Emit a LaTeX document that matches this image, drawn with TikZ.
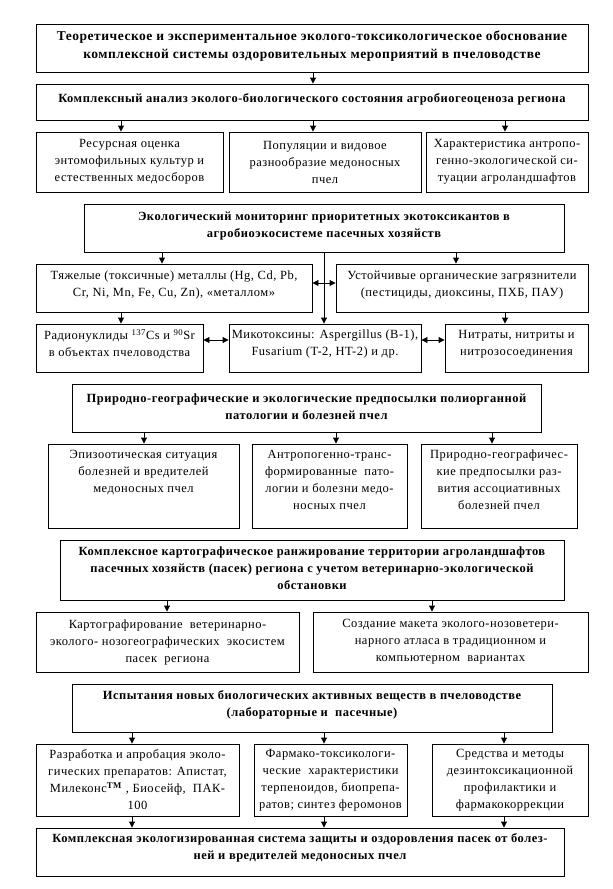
\documentclass[tikz,border=0pt]{standalone}
\usepackage{fontspec}
\setmainfont{Liberation Serif}[LetterSpace=4]
\usetikzlibrary{arrows.meta, positioning}

\tikzset{
  frame/.style={draw, line width=0.9pt, inner sep=0pt},
  txt/.style={align=center, inner sep=0pt, font=\fontsize{12.5}{17}\selectfont},
  head/.style={align=center, inner sep=0pt, font=\fontsize{12.5}{17}\selectfont\bfseries},
  title/.style={head, font=\fontsize{13.5}{18}\selectfont\bfseries},
  arr/.style={line width=0.9pt, -{Triangle[length=6pt,width=6pt]}},
  darr/.style={line width=0.9pt, {Triangle[length=6pt,width=6pt]}-{Triangle[length=6pt,width=6pt]}},
}

\begin{document}
\begin{tikzpicture}[x=1pt, y=-1pt]
  \useasboundingbox (0,0) rectangle (613,889);
  % Top goal and analysis
  \node[frame, minimum width=552pt, minimum height=48pt] (theory) at (312,48) {};
  \node[title, yshift=2pt] (theorytxt) at (theory) {Теоретическое и экспериментальное эколого-токсикологическое обоснование\\комплексной системы оздоровительных мероприятий в пчеловодстве};
  \node[frame, minimum width=552pt, minimum height=36pt] (analysis) at (312,102) {};
  \node[head, yshift=3pt] (analysistxt) at (analysis) {Комплексный анализ эколого-биологического состояния агробиогеоценоза региона};
  % Row of analysis tasks
  \node[frame, minimum width=187pt, minimum height=60pt] (resource) at (129.5,162) {};
  \node[txt] (resourcetxt) at (resource) {Ресурсная оценка\\энтомофильных культур и\\естественных медосборов};
  \node[frame, minimum width=192pt, minimum height=60pt] (popul) at (325,162) {};
  \node[txt] (popultxt) at (popul) {Популяции и видовое\\разнообразие медоносных\\пчел};
  \node[frame, minimum width=162pt, minimum height=60pt] (anthrop) at (507,162) {};
  \node[txt] (anthroptxt) at (anthrop) {Характеристика антропо-\\генно-экологической си-\\туации агроландшафтов};
  % Monitoring
  \node[frame, minimum width=480pt, minimum height=48pt] (monitor) at (324,228) {};
  \node[head, yshift=2pt] (monitortxt) at (monitor) {Экологический мониторинг приоритетных экотоксикантов в\\агробиоэкосистеме пасечных хозяйств};
  \node[frame, minimum width=276pt, minimum height=48pt] (metals) at (174,288) {};
  \node[txt, yshift=3pt] (metalstxt) at (metals) {Тяжелые (токсичные) металлы (Hg, Cd, Pb,\\Cr, Ni, Mn, Fe, Cu, Zn), «металлом»};
  \node[frame, minimum width=252pt, minimum height=48pt] (organic) at (462,288) {};
  \node[txt, yshift=3pt] (organictxt) at (organic) {Устойчивые органические загрязнители\\(пестициды, диоксины, ПХБ, ПАУ)};
  \node[frame, minimum width=167pt, minimum height=48pt] (radio) at (119.5,348) {};
  \node[txt, yshift=4pt] (radiotxt) at (radio) {Радионуклиды \textsuperscript{137}Cs и \textsuperscript{90}Sr\\в объектах пчеловодства};
  \node[frame, minimum width=192pt, minimum height=48pt] (mycotox) at (325,348) {};
  \node[txt, yshift=4pt] (mycotoxtxt) at (mycotox) {Микотоксины: Aspergillus (B-1),\\Fusarium (T-2, HT-2) и др.};
  \node[frame, minimum width=143pt, minimum height=48pt] (nitrate) at (516.5,348) {};
  \node[txt, yshift=4pt] (nitratetxt) at (nitrate) {Нитраты, нитриты и\\нитрозосоединения};
  % Natural and ecological preconditions
  \node[frame, minimum width=469pt, minimum height=48pt] (natural) at (306.5,408) {};
  \node[head, yshift=1pt] (naturaltxt) at (natural) {Природно-географические и экологические предпосылки полиорганной\\патологии и болезней пчел};
  \node[frame, minimum width=191pt, minimum height=84pt] (epizoo) at (143.5,486) {};
  \node[txt, anchor=north] (epizootxt) at ([yshift=-6pt]epizoo.north) {Эпизоотическая ситуация\\болезней и вредителей\\медоносных пчел};
  \node[frame, minimum width=155pt, minimum height=84pt] (transf) at (329.5,486) {};
  \node[txt, anchor=north] (transftxt) at ([yshift=-6pt]transf.north) {Антропогенно-транс-\\формированные\ \ пато-\\логии и болезни медо-\\носных пчел};
  \node[frame, minimum width=156pt, minimum height=84pt] (assoc) at (499,486) {};
  \node[txt, anchor=north] (assoctxt) at ([yshift=-6pt]assoc.north) {Природно-географичес-\\кие предпосылки раз-\\вития ассоциативных\\болезней пчел};
  % Cartographic ranking
  \node[frame, minimum width=504pt, minimum height=60pt] (carto) at (312,570) {};
  \node[head, yshift=2pt] (cartotxt) at (carto) {Комплексное картографическое ранжирование территории агроландшафтов\\пасечных хозяйств (пасек) региона с учетом ветеринарно-экологической\\обстановки};
  \node[frame, minimum width=263pt, minimum height=60pt] (mapping) at (167.5,642) {};
  \node[txt] (mappingtxt) at (mapping) {Картографирование\ \ ветеринарно-\\эколого- нозогеографических\ \ экосистем\\пасек\ \ региона};
  \node[frame, minimum width=275pt, minimum height=60pt] (atlas) at (450.5,642) {};
  \node[txt] (atlastxt) at (atlas) {Создание макета эколого-нозоветери-\\нарного атласа в традиционном и\\компьютерном\ \ вариантах};
  % Trials of new substances
  \node[frame, minimum width=480pt, minimum height=48pt] (trial) at (312,708) {};
  \node[head, yshift=3pt] (trialtxt) at (trial) {Испытания новых биологических активных веществ в пчеловодстве\\(лабораторные и\ \ пасечные)};
  \node[frame, minimum width=203pt, minimum height=72pt] (develop) at (137.5,780) {};
  \node[txt] (developtxt) at (develop) {Разработка и апробация эколо-\\гических препаратов: Апистат,\\Милеконс\textsuperscript{\textbf{TM}} , Биосейф,\ \ ПАК-\\100};
  \node[frame, minimum width=153pt, minimum height=72pt] (pharma) at (330.5,780) {};
  \node[txt] (pharmatxt) at (pharma) {Фармако-токсикологи-\\ческие\ \ характеристики\\терпеноидов, биопрепа-\\ратов; синтез феромонов};
  \node[frame, minimum width=156pt, minimum height=72pt] (detox) at (510,780) {};
  \node[txt] (detoxtxt) at (detox) {Средства и методы\\дезинтоксикационной\\профилактики и\\фармакокоррекции};
  % Final system
  \node[frame, minimum width=528pt, minimum height=48pt] (system) at (300,852) {};
  \node[head, yshift=4pt] (systemtxt) at (system) {Комплексная экологизированная система защиты и оздоровления пасек от болез-\\ней и вредителей медоносных пчел};
  % Arrow positions
  \coordinate (xa) at (121,0);
  \coordinate (xb) at (313,0);
  \coordinate (xc) at (505,0);
  % Connectors
  \draw[arr] (theory.south -| xb) -- (analysis.north -| xb);
  \draw[arr] (analysis.south -| xa) -- (resource.north -| xa);
  \draw[arr] (analysis.south -| xb) -- (popul.north -| xb);
  \draw[arr] (analysis.south -| xc) -- (anthrop.north -| xc);
  \draw[arr] ([xshift=-12pt]metals.north |- monitor.south) -- ([xshift=-12pt]metals.north);
  \draw[arr] ([xshift=-6pt]organic.north |- monitor.south) -- ([xshift=-6pt]organic.north);
  \draw[arr] ([xshift=-1pt]mycotox.north |- monitor.south) -- ([xshift=-1pt]mycotox.north);
  \draw[darr] ([yshift=5pt]metals.east) -- ([yshift=5pt]organic.west);
  \draw[arr] (metals.south -| xa) -- (radio.north -| xa);
  \draw[arr] (organic.south -| xc) -- (nitrate.north -| xc);
  \draw[darr] ([yshift=8pt]radio.east) -- ([yshift=8pt]mycotox.west);
  \draw[darr] ([yshift=8pt]mycotox.east) -- ([yshift=8pt]nitrate.west);
  \draw[arr] (natural.south -| 144,0) -- (epizoo.north -| 144,0);
  \draw[arr] (natural.south -| 336,0) -- (transf.north -| 336,0);
  \draw[arr] (natural.south -| 492,0) -- (assoc.north -| 492,0);
  \draw[arr] (carto.south -| 167,0) -- (mapping.north -| 167,0);
  \draw[arr] (carto.south -| 432,0) -- (atlas.north -| 432,0);
  \draw[arr] (trial.south -| 132,0) -- (develop.north -| 132,0);
  \draw[arr] (trial.south -| 324,0) -- (pharma.north -| 324,0);
  \draw[arr] (trial.south -| 504,0) -- (detox.north -| 504,0);
  \draw[arr] (develop.south -| 132,0) -- (system.north -| 132,0);
  \draw[arr] (pharma.south -| 324,0) -- (system.north -| 324,0);
  \draw[arr] (detox.south -| 504,0) -- (system.north -| 504,0);
\end{tikzpicture}
\end{document}
